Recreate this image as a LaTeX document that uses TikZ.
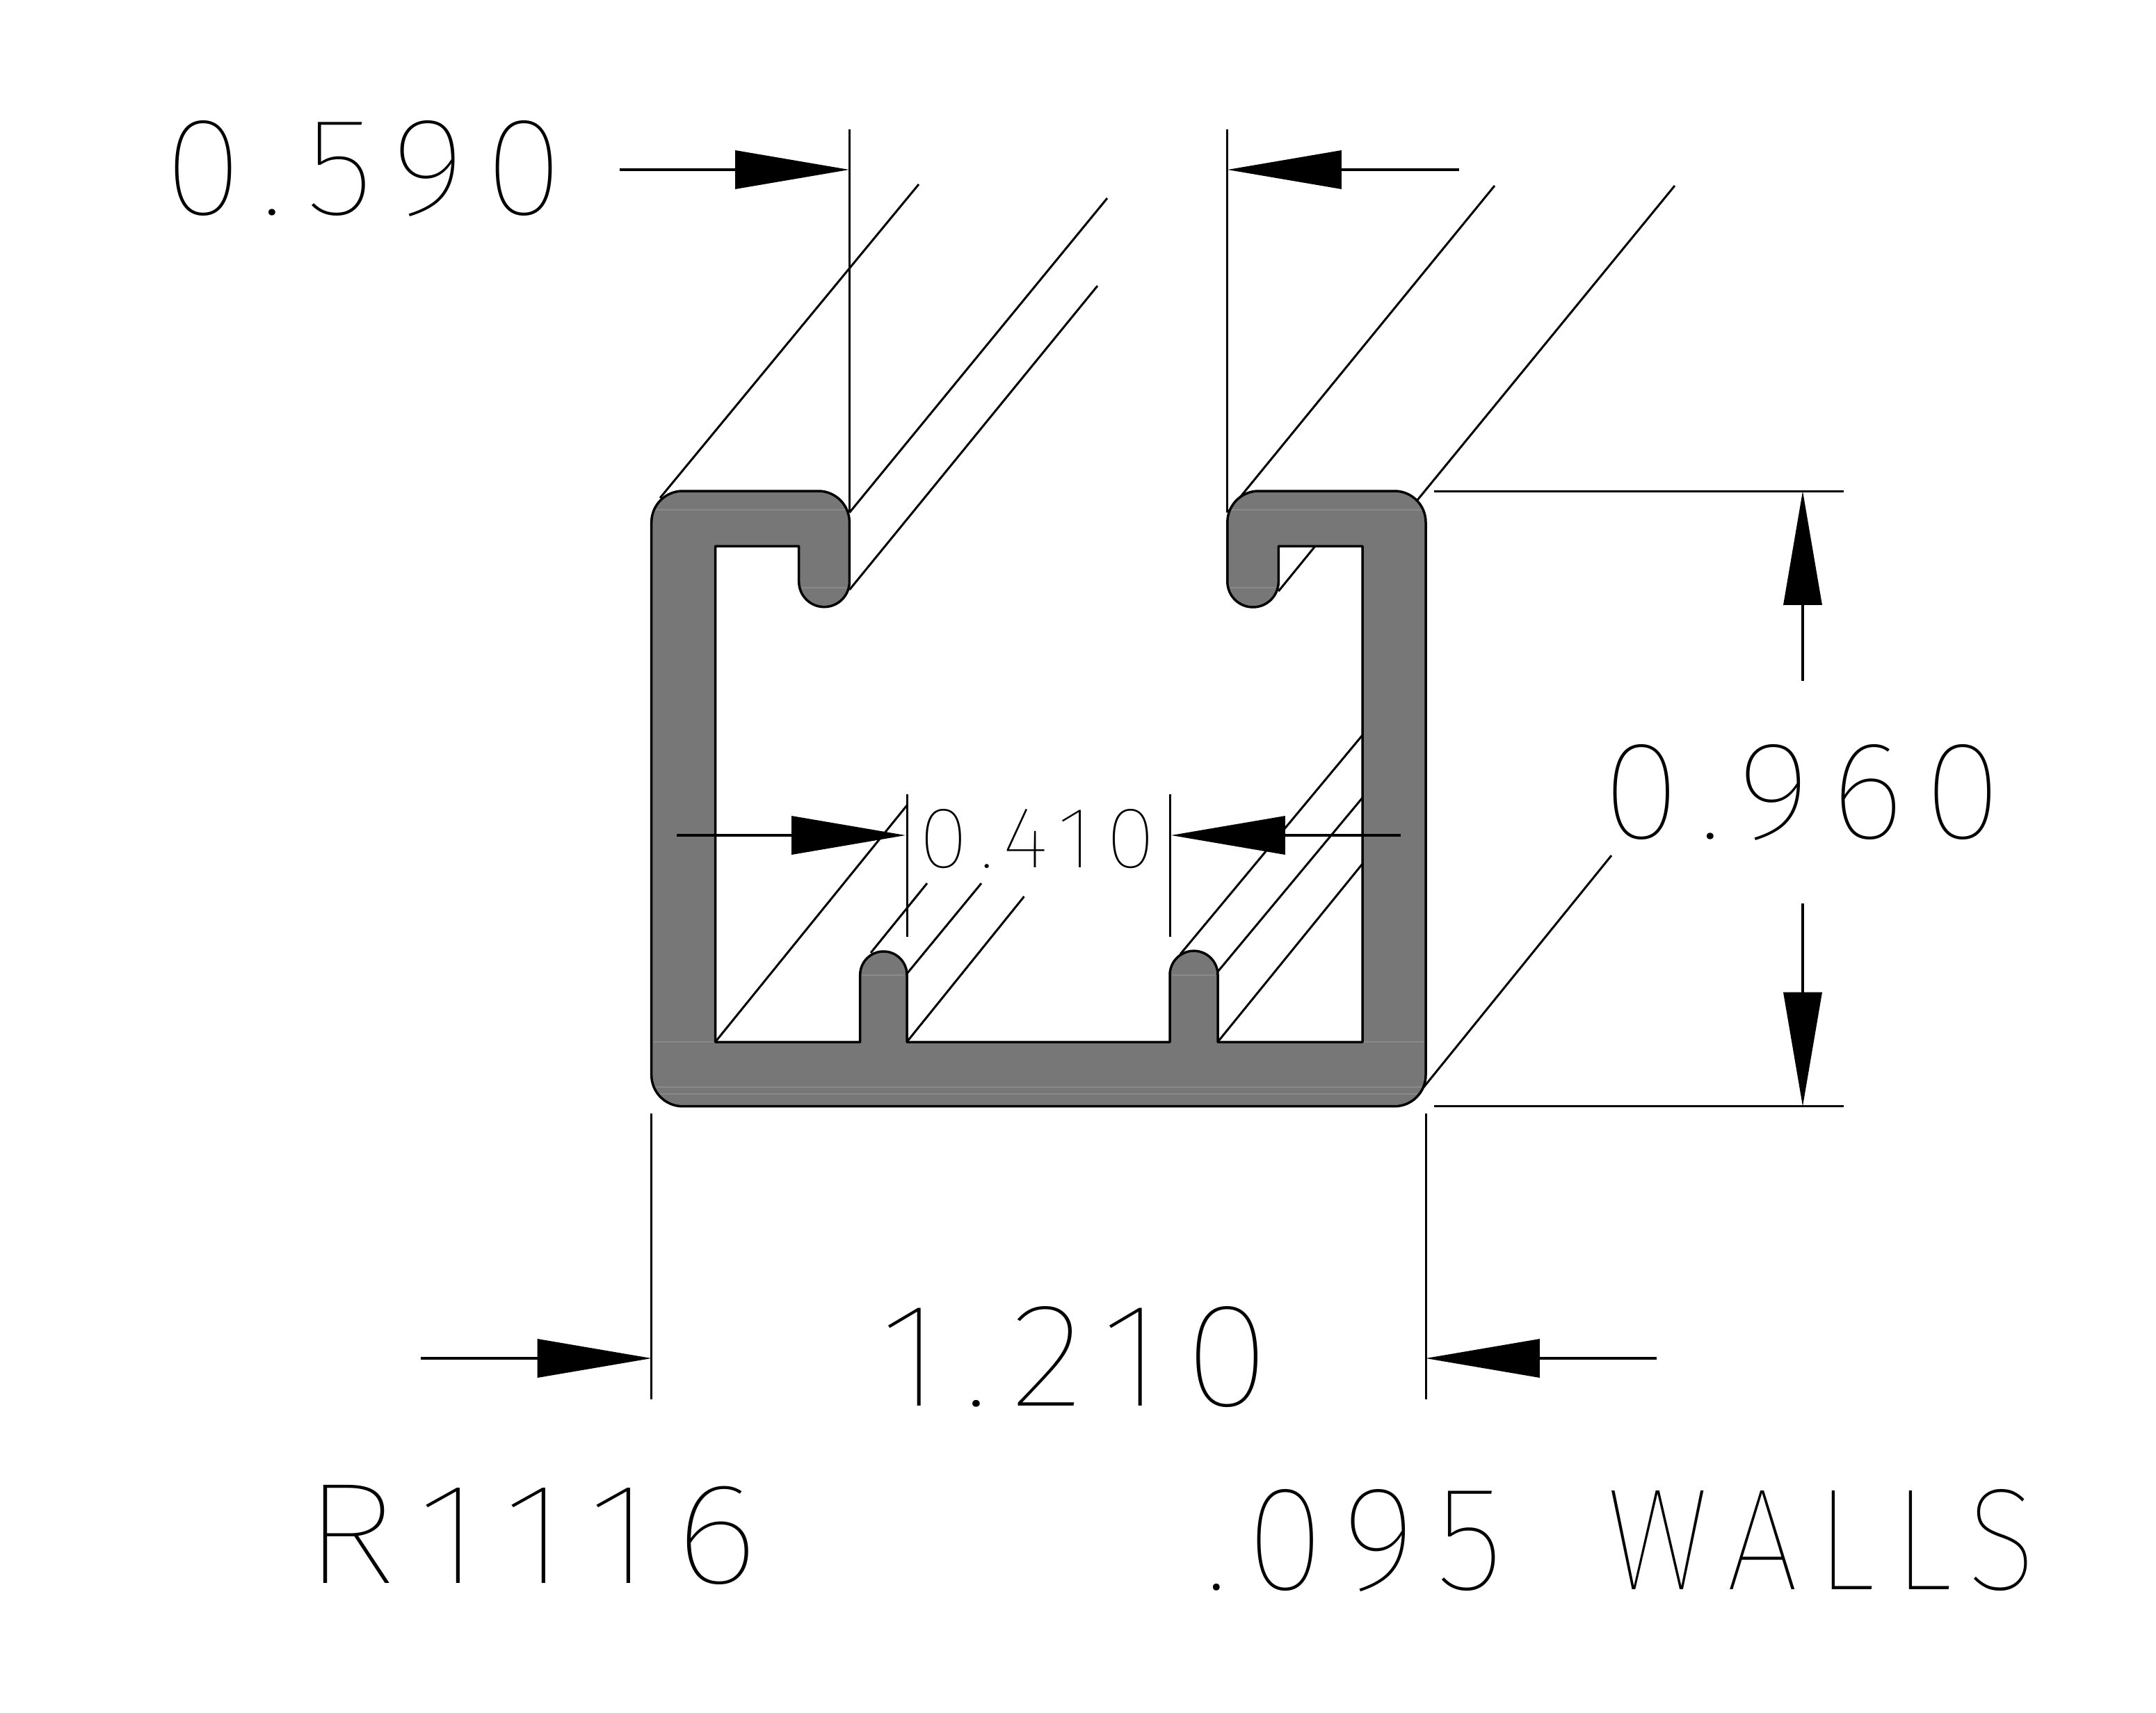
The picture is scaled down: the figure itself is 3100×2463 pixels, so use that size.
\documentclass[tikz,border=0pt]{standalone}
\usepackage{fontspec}
\usepackage{graphicx}
\usetikzlibrary{arrows.meta}
\newfontfamily\cadfont[LetterSpace=14]{Fira Sans Thin}
\newlength{\pxu}\setlength{\pxu}{0.02cm}
\newcommand{\fitlabel}[3]{\resizebox{#1\pxu}{#2\pxu}{\cadfont #3}}
\definecolor{profile}{HTML}{777777}
\definecolor{band}{HTML}{8A8A8A}
\tikzset{
  lbl/.style={inner sep=0pt,outer sep=0pt,anchor=south west},
  thinline/.style={line width=0.06cm,black},
  bandline/.style={line width=0.035cm,band},
  dimline/.style={line width=0.07cm,black,-{Triangle[length=3.28cm,width=1.1cm]}},
  profile outline/.style={line width=0.07cm,line join=round}
}
\newcommand{\profilepath}{
  (936.7,751) .. controls (936.7,726.1) and (956.8,706) .. (981.7,706)
  -- (1176.4,706) .. controls (1201.3,706) and (1221.4,726.1) .. (1221.4,751)
  -- (1221.4,836.3) .. controls (1221.4,856.4) and (1205.1,872.65) .. (1185.05,872.65)
  .. controls (1165,872.65) and (1148.7,856.4) .. (1148.7,836.3)
  -- (1148.7,785.3) -- (1028.6,785.3) -- (1028.6,1498.3) -- (1236.7,1498.3)
  -- (1236.7,1401.7) .. controls (1236.7,1383.1) and (1251.75,1368) .. (1270.35,1368)
  .. controls (1288.95,1368) and (1304,1383.1) .. (1304,1401.7)
  -- (1304,1498.3) -- (1682,1498.3)
  -- (1682,1401.7) .. controls (1682,1382.7) and (1697.5,1367.2) .. (1716.5,1367.2)
  .. controls (1735.5,1367.2) and (1751,1382.7) .. (1751,1401.7)
  -- (1751,1498.3) -- (1959,1498.3) -- (1959,785.3) -- (1838.3,785.3)
  -- (1838.3,836.3) .. controls (1838.3,856.6) and (1821.85,873) .. (1801.55,873)
  .. controls (1781.25,873) and (1764.8,856.6) .. (1764.8,836.3)
  -- (1764.8,751) .. controls (1764.8,726.1) and (1784.9,706) .. (1809.8,706)
  -- (2005,706) .. controls (2029.9,706) and (2050,726.1) .. (2050,751)
  -- (2050,1545.7) .. controls (2050,1570.6) and (2029.9,1590.7) .. (2005,1590.7)
  -- (981.7,1590.7) .. controls (956.8,1590.7) and (936.7,1570.6) .. (936.7,1545.7)
  -- cycle}
\begin{document}
\begin{tikzpicture}[x=0.02cm,y=-0.02cm]
\useasboundingbox (0,0) rectangle (3100,2463);
\fill[white] (0,0) rectangle (3100,2463);

% oblique edges
\draw[thinline] (949,716) -- (1321,265);
\draw[thinline] (1221.4,737) -- (1592,285);
\draw[thinline] (1221.4,848) -- (1578,411);
\draw[thinline] (1765,737) -- (2149,267);
\draw[thinline] (2038,719) -- (2408,267);
\draw[thinline] (1028.6,1498) -- (1304,1158);
\draw[thinline] (1252,1370) -- (1333,1270);
\draw[thinline] (1304,1400) -- (1411,1270);
\draw[thinline] (1304,1498) -- (1472.5,1289);
\draw[thinline] (1697,1372) -- (1959,1057);
\draw[thinline] (1751,1397) -- (1959,1147);
\draw[thinline] (1751,1498) -- (1959,1242);
\draw[thinline] (2044,1567) -- (2317,1230);

% profile: fill, faint bands, outline
\fill[profile] \profilepath;
\draw[bandline] (942,733) -- (1216,733);
\draw[bandline] (1770,733) -- (2045,733);
\draw[bandline] (1153,845) -- (1217,845);
\draw[bandline] (1769,845) -- (1834,845);
\draw[bandline] (1240,1402) -- (1300,1402);
\draw[bandline] (1686,1402) -- (1747,1402);
\draw[bandline] (940,1498.3) -- (1026,1498.3);
\draw[bandline] (1961,1498.3) -- (2047,1498.3);
\draw[bandline] (942,1563) -- (2044,1563);
\draw[bandline] (948,1573) -- (2038,1573);
\draw[profile outline] \profilepath;
\draw[thinline] (1838.3,850) -- (1891,785.3);

% extension lines
\draw[thinline] (1221.4,186) -- (1221.4,737);
\draw[thinline] (1764.8,186) -- (1764.8,737);
\draw[thinline] (1304,1142) -- (1304,1347);
\draw[thinline] (1682,1142) -- (1682,1347);
\draw[thinline] (2062,706) -- (2651,706);
\draw[thinline] (2062,1590.7) -- (2651,1590.7);
\draw[thinline] (936.7,1601) -- (936.7,2012);
\draw[thinline] (2050,1601) -- (2050,2012);

% dimension arrows
\draw[dimline] (891,244) -- (1221,244);
\draw[dimline] (2098,244) -- (1765,244);
\draw[dimline] (973,1201) -- (1302,1201);
\draw[dimline] (2014,1201) -- (1684,1201);
\draw[dimline] (2592,979) -- (2592,706);
\draw[dimline] (2592,1299) -- (2592,1590.7);
\draw[dimline] (605,1953) -- (936.7,1953);
\draw[dimline] (2382,1953) -- (2050,1953);

% labels
\node[lbl] (dimA) at (236,312) {\fitlabel{574}{135}{0.590}};
\node[lbl] (dimB) at (1321,1249) {\fitlabel{340}{84}{0.410}};
\node[lbl] (dimC) at (2304,1209) {\fitlabel{574}{135}{0.960}};
\node[lbl] (dimD) at (1265,2024) {\fitlabel{560}{143}{1.210}};
\node[lbl] (part) at (436,2279) {\fitlabel{655}{141}{R1116}};
\node[lbl] (wall) at (1732,2289) {\fitlabel{430}{144}{.095}\hspace{148\pxu}\fitlabel{618}{144}{WALLS}};
\end{tikzpicture}
\end{document}
